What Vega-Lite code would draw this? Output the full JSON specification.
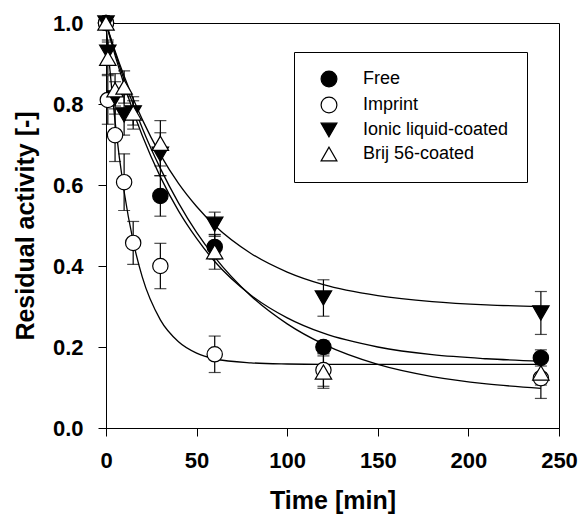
{
  "$schema": "https://vega.github.io/schema/vega-lite/v6.json",
  "width": 453,
  "height": 405,
  "autosize": {"type": "none"},
  "padding": {"left": 106, "top": 23, "right": 20, "bottom": 88},
  "background": "white",
  "config": {
    "view": {"stroke": "black", "strokeWidth": 1},
    "font": "Liberation Sans",
    "axis": {
      "grid": false,
      "domainColor": "black",
      "tickColor": "black",
      "labelColor": "black",
      "titleColor": "black",
      "labelFont": "Liberation Sans",
      "titleFont": "Liberation Sans",
      "labelFontWeight": "bold",
      "titleFontWeight": "bold",
      "labelFontSize": 22,
      "titleFontSize": 25,
      "tickSize": 8,
      "tickWidth": 1,
      "domainWidth": 1
    },
    "legend": {
      "orient": "none",
      "legendX": 188,
      "legendY": 29,
      "strokeColor": "black",
      "strokeWidth": 1,
      "fillColor": "white",
      "padding": 18,
      "rowPadding": 4,
      "labelFont": "Liberation Sans",
      "labelFontSize": 18,
      "labelColor": "black",
      "labelOffset": 25,
      "symbolOffset": 8,
      "symbolSize": 250,
      "symbolStrokeWidth": 1.2,
      "titlePadding": 0
    }
  },
  "datasets": {
    "pts": [
      {"series": "Free", "t": 0, "v": 1.0, "err": 0},
      {"series": "Free", "t": 30, "v": 0.573, "err": 0.05},
      {"series": "Free", "t": 60, "v": 0.447, "err": 0.03},
      {"series": "Free", "t": 120, "v": 0.2, "err": 0.015},
      {"series": "Free", "t": 240, "v": 0.173, "err": 0.02},
      {"series": "Imprint", "t": 0, "v": 1.0, "err": 0},
      {"series": "Imprint", "t": 1, "v": 0.81, "err": 0.06},
      {"series": "Imprint", "t": 5, "v": 0.723, "err": 0.065},
      {"series": "Imprint", "t": 10, "v": 0.607, "err": 0.07},
      {"series": "Imprint", "t": 15, "v": 0.457, "err": 0.053},
      {"series": "Imprint", "t": 30, "v": 0.4, "err": 0.056},
      {"series": "Imprint", "t": 60, "v": 0.182, "err": 0.045},
      {"series": "Imprint", "t": 120, "v": 0.143, "err": 0.04},
      {"series": "Imprint", "t": 240, "v": 0.123, "err": 0.05},
      {"series": "Ionic liquid-coated", "t": 0, "v": 1.0, "err": 0},
      {"series": "Ionic liquid-coated", "t": 1, "v": 0.928, "err": 0.03},
      {"series": "Ionic liquid-coated", "t": 5, "v": 0.815, "err": 0.04},
      {"series": "Ionic liquid-coated", "t": 10, "v": 0.773, "err": 0.05},
      {"series": "Ionic liquid-coated", "t": 15, "v": 0.778, "err": 0.03},
      {"series": "Ionic liquid-coated", "t": 30, "v": 0.676, "err": 0.053},
      {"series": "Ionic liquid-coated", "t": 60, "v": 0.503, "err": 0.03},
      {"series": "Ionic liquid-coated", "t": 120, "v": 0.321, "err": 0.045},
      {"series": "Ionic liquid-coated", "t": 240, "v": 0.284, "err": 0.053},
      {"series": "Brij 56-coated", "t": 0, "v": 1.0, "err": 0},
      {"series": "Brij 56-coated", "t": 1, "v": 0.913, "err": 0.04},
      {"series": "Brij 56-coated", "t": 5, "v": 0.835, "err": 0.04},
      {"series": "Brij 56-coated", "t": 10, "v": 0.842, "err": 0.04},
      {"series": "Brij 56-coated", "t": 15, "v": 0.778, "err": 0.04},
      {"series": "Brij 56-coated", "t": 30, "v": 0.703, "err": 0.056},
      {"series": "Brij 56-coated", "t": 60, "v": 0.435, "err": 0.043},
      {"series": "Brij 56-coated", "t": 120, "v": 0.138, "err": 0.04},
      {"series": "Brij 56-coated", "t": 240, "v": 0.136, "err": 0.03}
    ],
    "curves": [
      {"series": "Free", "t": 0, "v": 1.0},
      {"series": "Free", "t": 2, "v": 0.967},
      {"series": "Free", "t": 5, "v": 0.92},
      {"series": "Free", "t": 10, "v": 0.848},
      {"series": "Free", "t": 15, "v": 0.782},
      {"series": "Free", "t": 20, "v": 0.722},
      {"series": "Free", "t": 30, "v": 0.62},
      {"series": "Free", "t": 40, "v": 0.536},
      {"series": "Free", "t": 50, "v": 0.468},
      {"series": "Free", "t": 60, "v": 0.411},
      {"series": "Free", "t": 80, "v": 0.328},
      {"series": "Free", "t": 100, "v": 0.272},
      {"series": "Free", "t": 120, "v": 0.234},
      {"series": "Free", "t": 150, "v": 0.2},
      {"series": "Free", "t": 180, "v": 0.181},
      {"series": "Free", "t": 210, "v": 0.171},
      {"series": "Free", "t": 240, "v": 0.165},
      {"series": "Imprint", "t": 0, "v": 1.0},
      {"series": "Imprint", "t": 2, "v": 0.893},
      {"series": "Imprint", "t": 5, "v": 0.757},
      {"series": "Imprint", "t": 10, "v": 0.584},
      {"series": "Imprint", "t": 15, "v": 0.461},
      {"series": "Imprint", "t": 20, "v": 0.373},
      {"series": "Imprint", "t": 30, "v": 0.267},
      {"series": "Imprint", "t": 40, "v": 0.213},
      {"series": "Imprint", "t": 50, "v": 0.185},
      {"series": "Imprint", "t": 60, "v": 0.171},
      {"series": "Imprint", "t": 80, "v": 0.161},
      {"series": "Imprint", "t": 100, "v": 0.158},
      {"series": "Imprint", "t": 120, "v": 0.157},
      {"series": "Imprint", "t": 150, "v": 0.157},
      {"series": "Imprint", "t": 180, "v": 0.157},
      {"series": "Imprint", "t": 210, "v": 0.157},
      {"series": "Imprint", "t": 240, "v": 0.157},
      {"series": "Ionic liquid-coated", "t": 0, "v": 1.0},
      {"series": "Ionic liquid-coated", "t": 2, "v": 0.972},
      {"series": "Ionic liquid-coated", "t": 5, "v": 0.931},
      {"series": "Ionic liquid-coated", "t": 10, "v": 0.869},
      {"series": "Ionic liquid-coated", "t": 15, "v": 0.813},
      {"series": "Ionic liquid-coated", "t": 20, "v": 0.762},
      {"series": "Ionic liquid-coated", "t": 30, "v": 0.675},
      {"series": "Ionic liquid-coated", "t": 40, "v": 0.604},
      {"series": "Ionic liquid-coated", "t": 50, "v": 0.547},
      {"series": "Ionic liquid-coated", "t": 60, "v": 0.5},
      {"series": "Ionic liquid-coated", "t": 80, "v": 0.431},
      {"series": "Ionic liquid-coated", "t": 100, "v": 0.385},
      {"series": "Ionic liquid-coated", "t": 120, "v": 0.354},
      {"series": "Ionic liquid-coated", "t": 150, "v": 0.327},
      {"series": "Ionic liquid-coated", "t": 180, "v": 0.312},
      {"series": "Ionic liquid-coated", "t": 210, "v": 0.304},
      {"series": "Ionic liquid-coated", "t": 240, "v": 0.3},
      {"series": "Brij 56-coated", "t": 0, "v": 1.0},
      {"series": "Brij 56-coated", "t": 2, "v": 0.97},
      {"series": "Brij 56-coated", "t": 5, "v": 0.927},
      {"series": "Brij 56-coated", "t": 10, "v": 0.86},
      {"series": "Brij 56-coated", "t": 15, "v": 0.799},
      {"series": "Brij 56-coated", "t": 20, "v": 0.741},
      {"series": "Brij 56-coated", "t": 30, "v": 0.641},
      {"series": "Brij 56-coated", "t": 40, "v": 0.556},
      {"series": "Brij 56-coated", "t": 50, "v": 0.483},
      {"series": "Brij 56-coated", "t": 60, "v": 0.422},
      {"series": "Brij 56-coated", "t": 80, "v": 0.326},
      {"series": "Brij 56-coated", "t": 100, "v": 0.257},
      {"series": "Brij 56-coated", "t": 120, "v": 0.207},
      {"series": "Brij 56-coated", "t": 150, "v": 0.157},
      {"series": "Brij 56-coated", "t": 180, "v": 0.127},
      {"series": "Brij 56-coated", "t": 210, "v": 0.109},
      {"series": "Brij 56-coated", "t": 240, "v": 0.098}
    ]
  },
  "encoding": {
    "x": {
      "field": "t", "type": "quantitative",
      "scale": {"domain": [0, 250], "nice": false, "zero": false},
      "axis": {"title": "Time [min]", "values": [0, 50, 100, 150, 200, 250], "labelPadding": 14, "titlePadding": 17, "labelFlush": false}
    },
    "y": {
      "field": "v", "type": "quantitative",
      "scale": {"domain": [0, 1], "nice": false, "zero": false},
      "axis": {"title": "Residual activity [-]", "values": [0, 0.2, 0.4, 0.6, 0.8, 1.0], "format": ".1f", "labelPadding": 15, "titlePadding": 14, "labelFlush": false}
    }
  },
  "layer": [
    {
      "data": {"name": "curves"},
      "mark": {"type": "line", "color": "black", "strokeWidth": 1.3, "interpolate": "monotone", "clip": true},
      "encoding": {"detail": {"field": "series", "type": "nominal"}}
    },
    {
      "data": {"name": "pts"},
      "mark": {"type": "errorbar", "color": "black", "thickness": 1.2, "ticks": {"size": 12, "color": "black"}},
      "encoding": {
        "yError": {"field": "err"},
        "detail": {"field": "series", "type": "nominal"}
      }
    },
    {
      "data": {"name": "pts"},
      "transform": [{"filter": {"field": "series", "oneOf": ["Free", "Imprint"]}}],
      "mark": {"type": "point", "filled": false, "strokeWidth": 1.2, "opacity": 1, "size": 235},
      "encoding": {
        "shape": {
          "field": "series", "type": "nominal", "title": null,
          "scale": {"domain": ["Free", "Imprint", "Ionic liquid-coated", "Brij 56-coated"], "range": ["circle", "circle", "triangle-down", "triangle-up"]},
          "legend": {"encode": {"legend": {"update": {"width": {"value": 237}}}}}
        },
        "fill": {
          "field": "series", "type": "nominal", "title": null,
          "scale": {"domain": ["Free", "Imprint", "Ionic liquid-coated", "Brij 56-coated"], "range": ["black", "white", "black", "white"]}
        },
        "stroke": {
          "field": "series", "type": "nominal", "title": null,
          "scale": {"domain": ["Free", "Imprint", "Ionic liquid-coated", "Brij 56-coated"], "range": ["black", "black", "black", "black"]}
        }
      }
    },
    {
      "data": {"name": "pts"},
      "transform": [{"filter": {"field": "series", "oneOf": ["Ionic liquid-coated", "Brij 56-coated"]}}],
      "mark": {"type": "point", "filled": false, "strokeWidth": 1.2, "opacity": 1, "size": 270},
      "encoding": {
        "shape": {"field": "series", "type": "nominal", "title": null},
        "fill": {"field": "series", "type": "nominal", "title": null},
        "stroke": {"field": "series", "type": "nominal", "title": null}
      }
    }
  ]
}
